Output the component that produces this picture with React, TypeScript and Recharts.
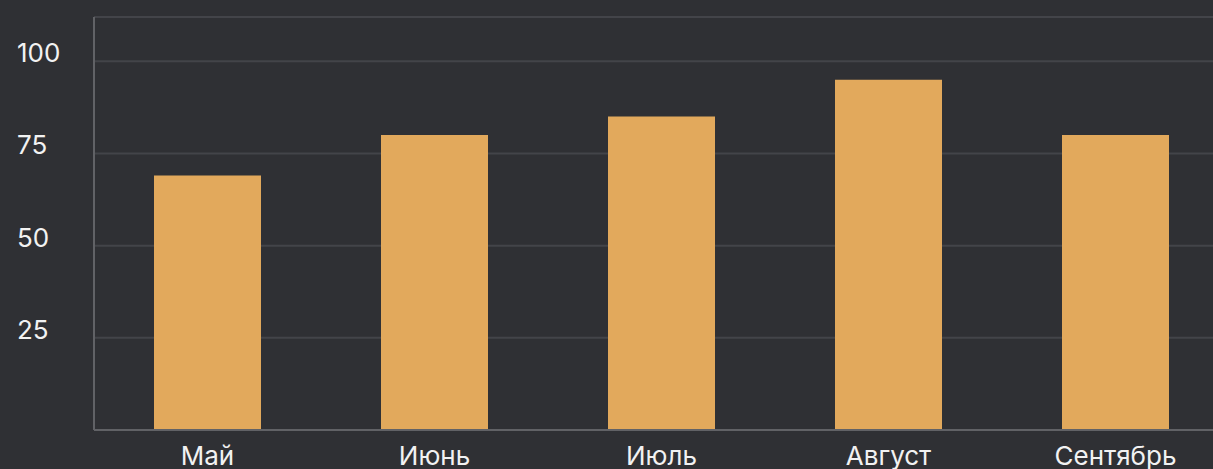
import { BarChart, Bar, XAxis, YAxis, CartesianGrid } from 'recharts'

const months = ['Май', 'Июнь', 'Июль', 'Август', 'Сентябрь']
const values = [69, 80, 85, 95, 80]
const yTicks = [25, 50, 75, 100]

const chartData = months.map((name, i) => ({ name, value: values[i] }))

const FONT = 'Inter, "Noto Sans", sans-serif'

const YTick = ({ y, payload }: any) => (
  <text x={17} y={y + 1} textAnchor="start" fill="#f2f2f2" fontSize={26} fontFamily={FONT}>
    {payload.value}
  </text>
)

// recharts hands us y = axis + 8, baseline sits ~35px under the axis line
const XTick = ({ x, y, payload }: any) => (
  <text x={x} y={y + 27} textAnchor="middle" fill="#f2f2f2" fontSize={26} fontFamily={FONT}>
    {payload.value}
  </text>
)

export default function App() {
  return (
    <div
      style={{
        position: 'absolute',
        left: 0,
        top: 0,
        width: 1213,
        height: 469,
        overflow: 'hidden',
        background: '#2f3034',
      }}
    >
      <BarChart
        width={1230}
        height={469}
        data={chartData}
        margin={{ top: 17, right: 1, bottom: 0, left: 0 }}
      >
        <CartesianGrid vertical={false} stroke="#434449" strokeWidth={2} />
        <XAxis
          dataKey="name"
          height={39}
          axisLine={{ stroke: '#616266', strokeWidth: 2 }}
          tickLine={false}
          tick={<XTick />}
          interval={0}
        />
        <YAxis
          width={94}
          domain={[0, 112]}
          ticks={yTicks}
          axisLine={{ stroke: '#616266', strokeWidth: 2 }}
          tickLine={false}
          tick={<YTick />}
        />
        <Bar dataKey="value" fill="#e2a95c" barSize={107} isAnimationActive={false} />
      </BarChart>
    </div>
  )
}
